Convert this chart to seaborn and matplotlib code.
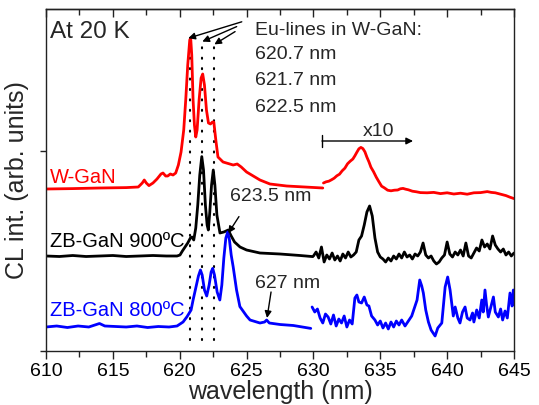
import matplotlib
matplotlib.use("Agg")
import matplotlib.pyplot as plt
from matplotlib.ticker import MultipleLocator
import seaborn as sns
import pandas as pd

# ---------------- data (wavelength in nm, CL intensity in arb. units) ----------------
# W-GaN, direct spectrum
w_red = [610.0, 612.0, 614.0, 616.0, 616.9, 617.2, 617.35, 617.5, 617.7, 618.0, 618.3, 618.6,
         618.75, 618.95, 619.1, 619.3, 619.5, 619.7, 619.9, 620.1, 620.3, 620.45, 620.6, 620.75,
         620.82, 620.9, 621.0, 621.1, 621.2, 621.3, 621.45, 621.6, 621.72, 621.85, 622.0, 622.15,
         622.3, 622.45, 622.55, 622.7, 622.86, 623.24, 624.0, 624.3, 624.6, 625.0, 626.0, 626.75,
         628.0, 630.7]
i_red = [81.0, 81.2, 81.5, 81.7, 82.0, 84.0, 85.5, 84.0, 82.7, 84.0, 86.0, 88.5,
         89.0, 87.5, 87.5, 88.5, 88.0, 89.0, 93.0, 99.5, 110.5, 125.5, 143.0, 155.5,
         156.5, 148.0, 125.5, 113.0, 107.0, 110.5, 125.5, 136.5, 138.5, 133.0, 120.5, 114.0,
         113.5, 114.5, 114.5, 105.5, 97.0, 94.5, 93.0, 93.5, 92.0, 89.5, 85.5, 83.5,
         82.5, 81.5]
# W-GaN, x10 part
w_red10 = [630.75, 630.95, 631.15, 631.35, 631.55, 631.75, 631.95, 632.15, 632.35, 632.55, 632.75,
           632.95, 633.1, 633.25, 633.4, 633.55, 633.7, 633.85, 634.0, 634.15, 634.3, 634.5, 634.7,
           634.9, 635.1, 635.3, 635.55, 635.8, 636.05, 636.3, 636.5, 636.7, 636.9, 637.1, 637.4,
           637.7, 638.0, 638.5, 639.0, 639.5, 640.0, 640.5, 641.0, 641.5, 642.0, 642.5, 643.0,
           643.3, 643.6, 644.0, 644.4, 644.7, 645.0]
i_red10 = [84.0, 84.6, 84.9, 85.6, 86.4, 87.6, 88.4, 90.1, 91.4, 93.6, 94.9,
           96.0, 97.6, 99.4, 101.1, 101.8, 101.2, 99.6, 96.9, 94.6, 91.9, 89.6, 86.9,
           84.6, 82.4, 81.6, 80.4, 80.1, 80.4, 80.5, 81.1, 81.3, 80.9, 80.6, 79.9,
           79.6, 79.2, 79.1, 79.3, 78.7, 79.1, 78.5, 78.9, 78.4, 79.1, 79.2, 79.7,
           79.3, 79.1, 78.4, 77.7, 76.9, 76.2]

# ZB-GaN 900 C, direct spectrum
w_blk = [610.0, 611.0, 612.0, 613.0, 614.0, 615.0, 616.0, 617.0, 618.0, 619.0, 619.8, 620.02,
         620.2, 620.4, 620.6, 620.8, 620.92, 621.05, 621.2, 621.35, 621.5, 621.65, 621.78, 621.92,
         622.05, 622.14, 622.25, 622.38, 622.51, 622.63, 622.78, 623.01, 623.3, 623.63, 623.85,
         624.1, 624.51, 625.0, 626.0, 627.5, 629.0, 629.95]
i_blk = [47.5, 47.25, 47.75, 47.25, 47.5, 47.75, 47.25, 47.5, 47.75, 47.5, 47.5, 48.0,
         50.0, 52.0, 54.0, 56.5, 57.0, 55.5, 61.5, 73.0, 88.0, 97.2, 90.5, 73.0,
         63.0, 60.5, 69.5, 83.0, 90.5, 83.0, 68.0, 59.0, 59.5, 60.5, 57.5,
         54.5, 52.0, 50.5, 49.0, 48.5, 47.75, 47.2]
# ZB-GaN 900 C, x10 part
w_blk10 = [630.0, 630.2, 630.4, 630.6, 630.8, 631.0, 631.2, 631.4, 631.6, 631.8, 632.0, 632.2,
           632.4, 632.6, 632.8, 633.0, 633.2, 633.4, 633.6, 633.8, 634.0, 634.2, 634.4, 634.6,
           634.8, 635.0, 635.2, 635.4, 635.6, 635.8, 636.0, 636.2, 636.4, 636.6, 636.8, 637.0,
           637.2, 637.4, 637.6, 637.8, 638.0, 638.2, 638.4, 638.6, 638.8, 639.0, 639.2, 639.4,
           639.6, 639.8, 640.0, 640.2, 640.4, 640.6, 640.8, 641.0, 641.2, 641.4, 641.6, 641.8,
           642.0, 642.2, 642.4, 642.6, 642.8, 643.0, 643.2, 643.4, 643.6, 643.8, 644.0, 644.2,
           644.4, 644.6, 644.8, 645.0]
i_blk10 = [47.5, 49.5, 46.5, 52.0, 44.5, 48.0, 46.0, 49.0, 45.5, 47.5, 45.0, 48.5,
           46.5, 49.5, 47.0, 48.0, 49.5, 55.5, 57.5, 63.0, 69.5, 72.5, 67.5, 56.5,
           49.5, 47.0, 46.0, 44.5, 46.5, 45.0, 47.5, 46.0, 48.5, 46.5, 49.5, 47.0,
           48.0, 46.0, 48.5, 47.5, 49.5, 54.0, 48.0, 46.5, 47.5, 45.0, 43.5, 44.5,
           46.5, 48.0, 54.5, 48.5, 47.0, 49.5, 48.0, 50.5, 47.5, 54.0, 47.5, 46.5,
           49.0, 51.5, 50.0, 55.5, 52.0, 53.5, 51.0, 57.5, 53.0, 51.0, 49.5, 51.0,
           48.0, 49.5, 47.5, 49.0]

# ZB-GaN 800 C, direct spectrum
w_blu = [610.0, 610.8, 611.6, 612.4, 613.2, 614.0, 614.4, 615.2, 616.0, 616.8, 617.6, 618.4,
         619.2, 619.8, 620.25, 620.55, 620.85, 621.0, 621.2, 621.4, 621.55, 621.68, 621.85, 622.02,
         622.2, 622.35, 622.47, 622.6, 622.8, 623.0, 623.15, 623.3, 623.45, 623.59, 623.72, 623.85,
         624.0, 624.25, 624.5, 625.0, 625.26, 626.0, 626.35, 626.5, 626.7, 627.5, 628.5, 629.8]
i_blu = [12.0, 12.5, 11.75, 12.5, 12.0, 13.75, 12.5, 12.25, 12.0, 12.5, 11.75, 12.25,
         12.0, 12.5, 14.5, 17.2, 20.5, 25.5, 31.5, 37.5, 40.5, 38.0, 30.5, 27.5,
         33.0, 39.5, 41.3, 38.0, 29.5, 25.5, 33.0, 46.5, 56.5, 59.5, 55.5, 48.0,
         42.0, 30.5, 22.2, 17.5, 15.5, 14.0, 14.5, 15.5, 14.0, 13.25, 12.75, 11.3]
# ZB-GaN 800 C, x10 part
w_blu10 = [629.9, 630.1, 630.3, 630.5, 630.7, 630.9, 631.1, 631.3, 631.5, 631.7, 631.9, 632.1,
           632.3, 632.5, 632.7, 632.9, 633.1, 633.25, 633.4, 633.6, 633.8, 634.0, 634.15, 634.35,
           634.6, 634.8, 635.0, 635.2, 635.4, 635.6, 635.8, 636.0, 636.2, 636.4, 636.6, 636.85,
           637.1, 637.35, 637.55, 637.75, 637.95, 638.1, 638.22, 638.4, 638.6, 638.8, 639.1, 639.3,
           639.6, 639.85, 640.04, 640.22, 640.46, 640.6, 640.8, 640.96, 641.15, 641.34, 641.5, 641.71,
           641.9, 642.0, 642.21, 642.4, 642.59, 642.7, 642.83, 642.95, 643.08, 643.25, 643.46, 643.6,
           643.83, 644.0, 644.15, 644.33, 644.5, 644.7, 644.85, 644.95, 645.0]
i_blu10 = [22.0, 19.5, 21.0, 16.5, 14.0, 18.5, 17.0, 13.5, 18.0, 12.5, 16.0, 14.0,
           17.5, 12.0, 15.5, 13.5, 26.5, 28.0, 24.5, 24.0, 27.0, 23.0, 22.5, 17.5,
           15.5, 13.0, 15.0, 11.5, 14.0, 11.0, 14.5, 12.0, 15.0, 13.0, 15.5, 12.5,
           15.0, 17.5, 21.5, 25.5, 35.5, 32.5, 29.0, 20.5, 14.5, 10.5, 7.5, 11.5,
           14.0, 32.0, 37.0, 30.5, 17.5, 22.0, 16.5, 14.0, 19.5, 22.0, 16.5, 15.5,
           19.0, 14.5, 20.5, 16.5, 25.5, 19.5, 30.5, 23.0, 17.0, 21.5, 27.0, 19.5,
           17.0, 21.0, 15.5, 20.0, 16.5, 29.0, 22.5, 30.5, 23.0]

eu_lines = [620.8, 621.7, 622.6]
eu_labels = ["620.7 nm", "621.7 nm", "622.5 nm"]
eu_tops = [156.5, 154.5, 153.0]

# ---------------- style ----------------
sns.set_theme(style="ticks")
plt.rcParams["font.family"] = ["Liberation Sans", "DejaVu Sans"]
plt.rcParams["axes.linewidth"] = 1.0

fig = plt.figure(figsize=(5.39, 4.05), dpi=100)
ax = fig.add_axes([46 / 539, 54 / 405, 468 / 539, 341.7 / 405])

RED, BLK, BLU = "#ff0000", "#000000", "#0000ff"
segments = [
    (w_red, i_red, RED), (w_red10, i_red10, RED),
    (w_blk, i_blk, BLK), (w_blk10, i_blk10, BLK),
    (w_blu, i_blu, BLU), (w_blu10, i_blu10, BLU),
]
for w, i, c in segments:
    df = pd.DataFrame({"w": w, "i": i})
    sns.lineplot(data=df, x="w", y="i", ax=ax, color=c, lw=2.0,
                 estimator=None, sort=False, legend=False)

# dotted Eu-line markers
for x, top in zip(eu_lines, eu_tops):
    ax.plot([x, x], [5.5, top], color="black", lw=1.5, ls=(0, (0.5, 4.5)),
            dash_capstyle="round", zorder=1)

ax.set_xlim(610, 645)
ax.set_ylim(0, 170.85)
ax.set_xticks(range(610, 646, 5))
ax.xaxis.set_minor_locator(MultipleLocator(2.5))
ax.set_yticks([0, 100])
ax.set_yticklabels([])
ax.tick_params(axis="x", which="major", direction="out", length=6, width=1,
               labelsize=14, pad=3, colors="#222222", labelcolor="black")
ax.tick_params(axis="x", which="minor", direction="out", length=4, width=1, colors="#222222")
ax.tick_params(axis="y", which="major", direction="out", length=4.5, width=1, colors="#222222")
for s in ax.spines.values():
    s.set_color("#222222")

top = ax.secondary_xaxis("top")
top.set_xticks(range(610, 646, 5))
top.xaxis.set_minor_locator(MultipleLocator(2.5))
top.tick_params(axis="x", which="major", direction="in", length=6, width=1, labeltop=False,
                colors="#222222")
top.tick_params(axis="x", which="minor", direction="in", length=4, width=1, colors="#222222")
top.spines["top"].set_color("#222222")

ax.set_xlabel("wavelength (nm)", fontsize=18, labelpad=0)
ax.set_ylabel("CL int. (arb. units)", fontsize=18, labelpad=4)

# ---------------- annotations ----------------
ax.text(610.3, 159.5, "At 20 K", fontsize=17.5, ha="left", va="center")
ax.text(625.63, 160.5, "Eu-lines in W-GaN:", fontsize=14, ha="left", va="center")
for lab, yy in zip(eu_labels, [148.5, 135.5, 122.0]):
    ax.text(625.63, yy, lab, fontsize=14, ha="left", va="center")

arrow_kw = dict(arrowstyle="-|>", color="black", lw=1.0, mutation_scale=10,
                shrinkA=0, shrinkB=0)
for (sx, sy), (ex, ey) in [((624.64, 164.6), (620.64, 156.4)),
                           ((624.26, 162.2), (621.69, 154.7)),
                           ((624.14, 159.7), (622.59, 153.3))]:
    ax.annotate("", xy=(ex, ey), xytext=(sx, sy), arrowprops=arrow_kw)

ax.text(610.3, 87.0, "W-GaN", fontsize=14.5, color=RED, ha="left", va="center")
ax.text(610.3, 54.7, "ZB-GaN 900ºC", fontsize=14.5, color=BLK, ha="left", va="center")
ax.text(610.3, 20.5, "ZB-GaN 800ºC", fontsize=14.5, color=BLU, ha="left", va="center")

ax.text(623.76, 77.5, "623.5 nm", fontsize=14, ha="left", va="center")
ax.annotate("", xy=(623.63, 58.9), xytext=(624.43, 67.2), arrowprops=arrow_kw)
ax.text(625.63, 34.0, "627 nm", fontsize=14, ha="left", va="center")
ax.annotate("", xy=(626.53, 16.5), xytext=(626.83, 29.5), arrowprops=arrow_kw)

# x10 bracket
ax.text(633.71, 109.5, "x10", fontsize=14, ha="left", va="center")
ax.plot([630.64, 630.64], [102, 108], color="black", lw=1.0)
ax.annotate("", xy=(637.45, 105), xytext=(630.64, 105), arrowprops=arrow_kw)

fig.savefig("out.png", dpi=100)
